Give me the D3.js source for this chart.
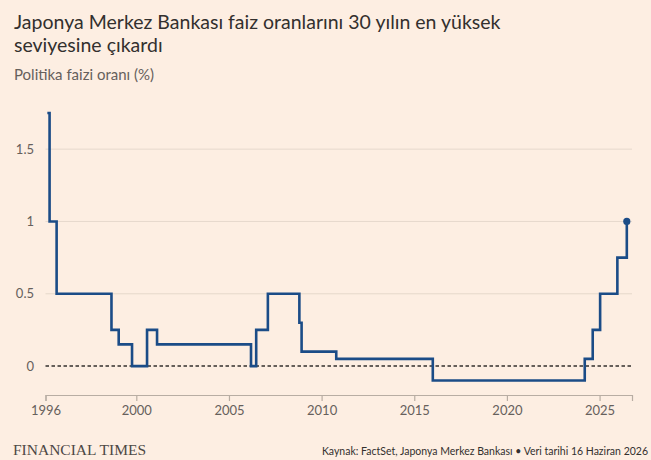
<!DOCTYPE html>
<html>
<head>
<meta charset="utf-8">
<script src="https://cdn.jsdelivr.net/npm/d3@7"></script>
<style>
  body { margin: 0; background: #fdeee2; }
  svg { display: block; }
</style>
</head>
<body>
<svg width="651" height="460"></svg>
<script>
// Data: policy rate changes (decimal year, rate %)
const changeYears = [1995.2, 1995.32, 1995.7, 1998.66, 1999.05, 1999.77, 2000.58, 2001.12,
  2006.19, 2006.47, 2007.1, 2008.8, 2008.92, 2010.79, 2016.0, 2024.2, 2024.63, 2025.03,
  2025.96, 2026.47];
const rates = [1.75, 1.0, 0.5, 0.25, 0.15, 0, 0.25, 0.15,
  0, 0.25, 0.5, 0.3, 0.1, 0.05, -0.1, 0.05, 0.25, 0.5,
  0.75, 1.0];

const xTickValues = [1995.1, 2000, 2005, 2010, 2015, 2020, 2025];
const xTickLabels = ["1996", "2000", "2005", "2010", "2015", "2020", "2025"];
const yTickValues = [0, 0.5, 1, 1.5];
const yTickLabels = ["0", "0.5", "1", "1.5"];

const title = ["Japonya Merkez Bankası faiz oranlarını 30 yılın en yüksek", "seviyesine çıkardı"];
const subtitle = "Politika faizi oranı (%)";
const source = "Kaynak: FactSet, Japonya Merkez Bankası • Veri tarihi 16 Haziran 2026";

const svg = d3.select("svg"),
  width = +svg.attr("width"),
  height = +svg.attr("height");

const font = "Lato, 'Open Sans', sans-serif";

svg.append("rect").attr("width", width).attr("height", height).attr("fill", "#fdeee2");

// Title & subtitle
svg.append("text")
  .attr("x", 14).attr("y", 29)
  .style("font-family", font).style("font-size", "19.5px").attr("fill", "#33302e")
  .selectAll("tspan")
  .data(title)
  .join("tspan")
  .attr("x", 14)
  .attr("dy", (d, i) => i === 0 ? 0 : 23)
  .text(d => d);

svg.append("text")
  .attr("x", 14).attr("y", 80)
  .style("font-family", font).style("font-size", "15px").attr("fill", "#66605c")
  .text(subtitle);

// Scales
const x = d3.scaleLinear().domain([1995.1, 2026.75]).range([45.5, 632]);
const y = d3.scaleLinear().domain([-0.2, 1.75]).range([395, 113]);

// Gridlines
svg.append("g")
  .selectAll("line")
  .data(yTickValues.filter(v => v !== 0))
  .join("line")
  .attr("x1", x.range()[0]).attr("x2", x.range()[1])
  .attr("y1", d => y(d)).attr("y2", d => y(d))
  .attr("stroke", "#e6d8cc").attr("stroke-width", 1);

// Y labels
svg.append("g")
  .selectAll("text")
  .data(yTickValues)
  .join("text")
  .attr("x", 34)
  .attr("y", d => y(d))
  .attr("dy", "0.35em")
  .attr("text-anchor", "end")
  .style("font-family", font).style("font-size", "13px").attr("fill", "#66605c")
  .text((d, i) => yTickLabels[i]);

// Zero line (dashed)
svg.append("line")
  .attr("x1", x.range()[0]).attr("x2", x.range()[1])
  .attr("y1", y(0)).attr("y2", y(0))
  .attr("stroke", "#33302e").attr("stroke-width", 1.5)
  .attr("stroke-dasharray", "3.5,2.5");

// X axis
const xAxis = svg.append("g")
  .attr("transform", `translate(0,${y(-0.2)})`)
  .call(d3.axisBottom(x)
    .tickValues(xTickValues)
    .tickFormat((d, i) => xTickLabels[i])
    .tickSize(6)
    .tickPadding(5));
xAxis.select(".domain").attr("stroke", "#b8ada3").attr("stroke-width", 1.2);
xAxis.selectAll(".tick line").attr("stroke", "#b8ada3").attr("stroke-width", 1.2);
xAxis.selectAll(".tick text")
  .style("font-family", font).style("font-size", "13px").attr("fill", "#66605c");

// Rate line
const points = changeYears.map((yr, i) => [yr, rates[i]]);
const line = d3.line()
  .x(d => x(d[0]))
  .y(d => y(d[1]))
  .curve(d3.curveStepAfter);

svg.append("path")
  .datum(points)
  .attr("d", line)
  .attr("fill", "none")
  .attr("stroke", "#1b4c87")
  .attr("stroke-width", 2.6)
  .attr("stroke-linejoin", "miter");

const last = points[points.length - 1];
svg.append("circle")
  .attr("cx", x(last[0])).attr("cy", y(last[1]))
  .attr("r", 3.6)
  .attr("fill", "#1b4c87");

// Footer
svg.append("text")
  .attr("x", 13).attr("y", 455)
  .style("font-family", "'Liberation Serif', 'DejaVu Serif', serif")
  .style("font-size", "15.5px").attr("fill", "#4d4845")
  .text("FINANCIAL TIMES");

svg.append("text")
  .attr("x", 648).attr("y", 455)
  .attr("text-anchor", "end")
  .style("font-family", font).style("font-size", "10.5px").attr("fill", "#33302e")
  .text(source);
</script>
</body>
</html>
